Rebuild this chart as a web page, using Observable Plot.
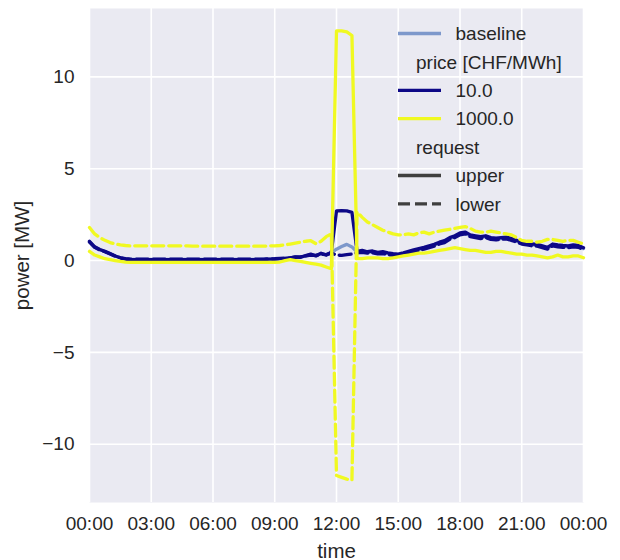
<!DOCTYPE html>
<html><head><meta charset="utf-8">
<script src="https://cdn.jsdelivr.net/npm/d3@7"></script>
<script src="https://cdn.jsdelivr.net/npm/@observablehq/plot@0.6"></script>
<style>
body{margin:0;background:#fff;}
#chart svg{display:block;}
g[aria-label="x-axis label"] text, g[aria-label="y-axis label"] text {font-size:20.5px !important;}
</style>
</head><body><div id="chart"></div>
<script>
// time in hours, 15-minute steps from 00:00 to 24:00
const hours = d3.range(97).map(i => i / 4);
const xTicks = [0, 3, 6, 9, 12, 15, 18, 21, 24];
const xTickLabels = ["00:00","03:00","06:00","09:00","12:00","15:00","18:00","21:00","00:00"];
const yTicks = [-10, -5, 0, 5, 10];
const yTickLabels = ["\u221210","\u22125","0","5","10"];

const baseline = [
  1.02,0.73,0.59,0.49, 0.37,0.25,0.15,0.09, 0.06,0.06,0.06,0.06, 0.06,0.06,0.06,0.06,
  0.06,0.06,0.06,0.06, 0.06,0.06,0.06,0.06, 0.06,0.06,0.06,0.06, 0.06,0.06,0.06,0.06,
  0.06,0.06,0.07,0.08, 0.09,0.11,0.12,0.15, 0.19,0.19,0.26,0.32, 0.27,0.38,0.31,0.42,
  0.62,0.76,0.88,0.74, 0.46,0.50,0.44,0.47, 0.40,0.43,0.37,0.33, 0.30,0.37,0.45,0.53,
  0.60,0.67,0.75,0.83, 0.95,1.03,1.20,1.30, 1.45,1.50,1.35,1.30, 1.25,1.30,1.20,1.17,
  1.20,1.23,1.15,1.05, 0.95,0.90,0.85,0.83, 0.75,0.67,0.85,0.80, 0.77,0.75,0.80,0.77,
  0.65
];
const price10Upper = [
  1.05,0.75,0.60,0.50, 0.38,0.25,0.15,0.08, 0.05,0.05,0.05,0.05, 0.05,0.05,0.05,0.05,
  0.05,0.05,0.05,0.05, 0.05,0.05,0.05,0.05, 0.05,0.05,0.05,0.05, 0.05,0.05,0.05,0.05,
  0.05,0.05,0.06,0.08, 0.08,0.10,0.12,0.15, 0.20,0.18,0.27,0.35, 0.25,0.40,0.30,0.45,
  2.70,2.72,2.70,2.62, 0.50,0.55,0.48,0.52, 0.45,0.48,0.42,0.38, 0.35,0.42,0.50,0.58,
  0.65,0.72,0.80,0.88, 1.00,1.08,1.25,1.35, 1.50,1.55,1.40,1.35, 1.30,1.35,1.25,1.22,
  1.25,1.28,1.20,1.10, 1.00,0.95,0.90,0.88, 0.80,0.72,0.90,0.85, 0.82,0.80,0.85,0.82,
  0.70
];
const price10Lower = [
  1.00,0.72,0.58,0.48, 0.36,0.24,0.15,0.10, 0.08,0.08,0.08,0.08, 0.08,0.08,0.08,0.08,
  0.08,0.08,0.08,0.08, 0.08,0.08,0.08,0.08, 0.08,0.08,0.08,0.08, 0.08,0.08,0.08,0.08,
  0.08,0.08,0.08,0.09, 0.10,0.12,0.13,0.15, 0.18,0.20,0.25,0.30, 0.28,0.35,0.32,0.40,
  0.30,0.28,0.32,0.35, 0.42,0.45,0.40,0.42, 0.36,0.38,0.32,0.28, 0.25,0.32,0.40,0.48,
  0.55,0.62,0.70,0.78, 0.90,0.98,1.15,1.25, 1.40,1.45,1.30,1.25, 1.20,1.25,1.15,1.12,
  1.15,1.18,1.10,1.00, 0.90,0.85,0.80,0.78, 0.70,0.62,0.80,0.75, 0.72,0.70,0.75,0.72,
  0.60
];
const price1000Upper = [
  0.50,0.30,0.20,0.10, 0.05,0.00,-0.05,-0.08, -0.10,-0.10,-0.10,-0.10, -0.10,-0.10,-0.10,-0.10,
  -0.10,-0.10,-0.10,-0.10, -0.10,-0.10,-0.10,-0.10, -0.10,-0.10,-0.10,-0.10, -0.10,-0.10,-0.10,-0.10,
  -0.10,-0.10,-0.10,-0.10, -0.10,-0.08,0.00,0.05, 0.00,-0.05,-0.10,-0.15, -0.20,-0.25,-0.35,-0.45,
  12.50,12.50,12.45,12.25, 0.10,0.10,0.15,0.15, 0.15,0.10,0.10,0.15, 0.20,0.25,0.30,0.35,
  0.40,0.40,0.45,0.50, 0.55,0.60,0.65,0.70, 0.65,0.60,0.55,0.55, 0.50,0.45,0.45,0.50,
  0.50,0.45,0.40,0.35, 0.35,0.30,0.30,0.25, 0.20,0.15,0.20,0.30, 0.20,0.20,0.25,0.25,
  0.15
];
const price1000Lower = [
  1.80,1.45,1.25,1.10, 0.98,0.90,0.85,0.82, 0.80,0.80,0.80,0.80, 0.80,0.80,0.80,0.80,
  0.80,0.80,0.80,0.80, 0.78,0.78,0.78,0.78, 0.78,0.78,0.78,0.78, 0.78,0.78,0.78,0.78,
  0.78,0.78,0.78,0.80, 0.80,0.82,0.85,0.90, 0.95,1.00,1.05,1.08, 0.92,1.05,1.30,1.45,
  -11.70,-11.80,-11.90,-11.95, 2.65,2.35,2.10,1.95, 1.80,1.65,1.55,1.45, 1.40,1.40,1.45,1.40,
  1.50,1.55,1.45,1.55, 1.60,1.65,1.70,1.75, 1.80,1.85,1.75,1.60, 1.55,1.55,1.60,1.55,
  1.50,1.45,1.40,1.25, 1.10,1.05,1.05,1.00, 1.05,1.15,1.15,1.10, 1.05,1.10,1.10,1.00,
  0.90
];

const colBaseline = "#7d98cb";
const col10 = "#0d0887";
const col1000 = "#f0f921";
const colStyle = "#3f3f3f";
const dash = "12,5";
const lw = 3.3;
const font = "'Liberation Sans', Arial, sans-serif";

const seriesList = [
  {name: "baseline", values: baseline, color: colBaseline, dashed: false},
  {name: "10.0 upper", values: price10Upper, color: col10, dashed: false},
  {name: "10.0 lower", values: price10Lower, color: col10, dashed: true},
  {name: "1000.0 upper", values: price1000Upper, color: col1000, dashed: false},
  {name: "1000.0 lower", values: price1000Lower, color: col1000, dashed: true}
];

const lineMarks = seriesList.map(s => Plot.line(
  s.values.map((v, i) => ({t: hours[i], v})),
  {x: "t", y: "v", stroke: s.color, strokeWidth: lw, strokeLinejoin: "round",
   strokeDasharray: s.dashed ? dash : null}
));

const chart = Plot.plot({
  width: 620, height: 560,
  marginLeft: 89, marginRight: 37, marginTop: 8, marginBottom: 58,
  style: {background: "transparent", fontFamily: font, fontSize: "19px", color: "#262626"},
  x: {domain: [0, 24]},
  y: {domain: [-13.17, 13.72]},
  marks: [
    Plot.frame({fill: "#EAEAF2", stroke: "none"}),
    Plot.gridX({ticks: xTicks, stroke: "white", strokeOpacity: 1, strokeWidth: 1.6}),
    Plot.gridY({ticks: yTicks, stroke: "white", strokeOpacity: 1, strokeWidth: 1.6}),
    Plot.axisX({ticks: xTicks, tickFormat: d => xTickLabels[xTicks.indexOf(d)], tickSize: 0, tickPadding: 14,
      label: "time", labelAnchor: "center", labelOffset: 55, labelArrow: "none", fill: "#262626"}),
    Plot.axisY({ticks: yTicks, tickFormat: d => yTickLabels[yTicks.indexOf(d)], tickSize: 0, tickPadding: 15,
      label: "power [MW]", labelAnchor: "center", labelOffset: 75, labelArrow: "none", fill: "#262626"}),
    ...lineMarks
  ]
});
document.getElementById("chart").appendChild(chart);

// legend (no frame, like seaborn darkgrid)
const legendItems = [
  {label: "baseline", color: colBaseline},
  {label: "price [CHF/MWh]", title: true},
  {label: "10.0", color: col10},
  {label: "1000.0", color: col1000},
  {label: "request", title: true},
  {label: "upper", color: colStyle},
  {label: "lower", color: colStyle, dashed: true}
];
const lg = d3.select(chart).append("g")
  .attr("font-family", font).attr("font-size", 19).attr("fill", "#262626")
  .attr("text-anchor", "start");
legendItems.forEach((it, i) => {
  const y = 33.5 + i * 28.4;
  if (!it.title) {
    lg.append("line").attr("x1", 398).attr("x2", 441).attr("y1", y).attr("y2", y)
      .attr("stroke", it.color).attr("stroke-width", lw)
      .attr("stroke-dasharray", it.dashed ? dash : null);
  }
  lg.append("text").attr("x", it.title ? 416 : 455.5).attr("y", y).attr("dy", "0.35em")
    .attr("text-anchor", "start").text(it.label);
});
</script></body></html>
